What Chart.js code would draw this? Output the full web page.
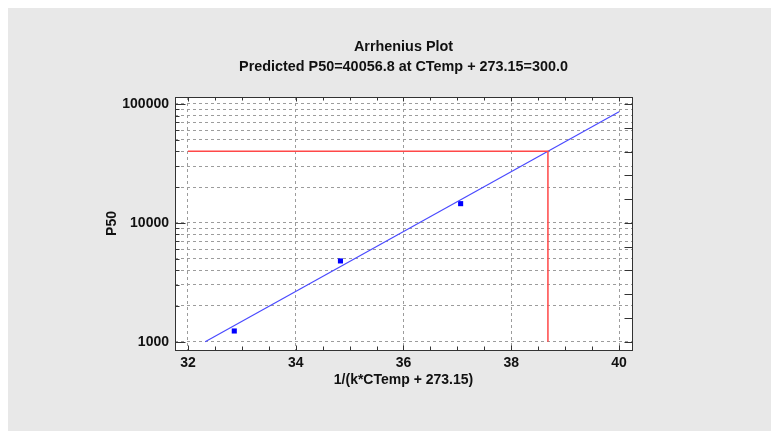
<!DOCTYPE html>
<html>
<head>
<meta charset="utf-8">
<title>Arrhenius Plot</title>
<script src="https://cdn.jsdelivr.net/npm/chart.js@4.4.1/dist/chart.umd.min.js"></script>
<style>
  html, body { margin: 0; padding: 0; background: #ffffff; }
  canvas { display: block; }
</style>
</head>
<body>
<canvas id="chart" width="771" height="431"></canvas>
<script>
// Observed samples: x = 1/(k*(CTemp + 273.15)), y = P50
const invTemp = [32.86, 34.83, 37.06];
const p50 = [1230, 4780, 14500];

// Fitted Arrhenius line, end points
const fitX = [32.32, 40.0];
const fitP50 = [1000, 86100];

// Prediction at CTemp + 273.15 = 300.0
const predTempK = 300.0;
const predX = 38.68;
const predP50 = 40056.8;

// Axis ticks
const xTicks = [32, 34, 36, 38, 40];
const xMinorTicks = [32.5, 33, 33.5, 34.5, 35, 35.5, 36.5, 37, 37.5, 38.5, 39, 39.5];
const yLabels = [1000, 10000, 100000];
const yGridValues = [1000, 2000, 3000, 4000, 5000, 6000, 7000, 8000, 9000,
                     10000, 20000, 30000, 40000, 50000, 60000, 70000, 80000, 90000, 100000];
const rightTickExps = [3, 3.2, 3.4, 3.6, 3.8, 4, 4.2, 4.4, 4.6, 4.8, 5];

const FONT = 'Liberation Sans, Arial, sans-serif';
const TEXT = '#111111';
const GRID = '#9c9c9c';
const FRAME = '#333333';

const framePlugin = {
  id: 'framePlugin',
  beforeDraw(chart) {
    const { ctx, width, height, chartArea: a } = chart;
    ctx.save();
    ctx.fillStyle = '#ffffff';
    ctx.fillRect(0, 0, width, height);
    ctx.fillStyle = '#e8e8e8';
    ctx.fillRect(8, 8, width - 8, height - 8);
    ctx.fillStyle = '#ffffff';
    ctx.fillRect(a.left, a.top, a.right - a.left, a.bottom - a.top);
    ctx.restore();
  },
  afterDraw(chart) {
    const { ctx, chartArea: a, scales } = chart;
    const xs = scales.x, ys = scales.y;
    const L = Math.round(a.left) + 0.5, R = Math.round(a.right) + 0.5;
    const T = Math.round(a.top) + 0.5, B = Math.round(a.bottom) + 0.5;
    ctx.save();
    ctx.strokeStyle = FRAME;
    ctx.lineWidth = 1;
    ctx.beginPath();
    const vt = (v, len, y0, dir) => {
      const px = Math.round(xs.getPixelForValue(v)) + 0.5;
      ctx.moveTo(px, y0); ctx.lineTo(px, y0 + dir * len);
    };
    const ht = (v, len, x0, dir) => {
      const py = Math.round(ys.getPixelForValue(v)) + 0.5;
      ctx.moveTo(x0, py); ctx.lineTo(x0 + dir * len, py);
    };
    // bottom and top ticks, pointing inward
    xTicks.forEach(v => { vt(v, 5, B, -1); vt(v, 4, T, 1); });
    xMinorTicks.forEach(v => { vt(v, 4, B, -1); vt(v, 3, T, 1); });
    // left ticks: decades long, intermediate values short
    yGridValues.forEach(v => ht(v, yLabels.includes(v) ? 10 : 4, L, 1));
    // right ticks at even log steps
    rightTickExps.forEach(e => ht(Math.pow(10, e), 8, R, -1));
    ctx.stroke();
    ctx.strokeRect(L, T, R - L, B - T);
    ctx.restore();
  }
};

new Chart(document.getElementById('chart'), {
  type: 'scatter',
  data: {
    datasets: [
      {
        label: 'Prediction',
        data: [{ x: xTicks[0], y: predP50 }, { x: predX, y: predP50 }, { x: predX, y: yLabels[0] }],
        showLine: true,
        borderColor: '#ff4848',
        borderWidth: 1.5,
        pointRadius: 0,
        fill: false
      },
      {
        label: 'Fit',
        data: fitX.map((x, i) => ({ x, y: fitP50[i] })),
        showLine: true,
        borderColor: '#4a4aff',
        borderWidth: 1.2,
        pointRadius: 0,
        fill: false
      },
      {
        label: 'P50',
        data: invTemp.map((x, i) => ({ x, y: p50[i] })),
        showLine: false,
        pointStyle: 'rect',
        pointRadius: 3.6,
        borderWidth: 0,
        backgroundColor: '#0000ff',
        borderColor: '#0000ff'
      }
    ]
  },
  options: {
    responsive: false,
    animation: false,
    events: [],
    layout: { padding: { left: 90, top: 20, right: 139, bottom: 31 } },
    plugins: {
      legend: { display: false },
      tooltip: { enabled: false },
      title: {
        display: true,
        text: 'Arrhenius Plot',
        fullSize: false,
        color: TEXT,
        font: { family: FONT, size: 14.4, weight: 'bold', lineHeight: 1.2 },
        padding: { top: 18.36, bottom: 0 }
      },
      subtitle: {
        display: true,
        text: 'Predicted P50=' + predP50.toFixed(1) + ' at CTemp + 273.15=' + predTempK.toFixed(1),
        fullSize: false,
        color: TEXT,
        font: { family: FONT, size: 14.4, weight: 'bold', lineHeight: 1.2 },
        padding: { top: 2.72, bottom: 21.36 }
      }
    },
    scales: {
      x: {
        type: 'linear',
        position: 'bottom',
        min: 31.76,
        max: 40.24,
        afterBuildTicks: s => { s.ticks = xTicks.map(v => ({ value: v })); },
        afterFit: s => { s.height = 50; },
        ticks: {
          autoSkip: false,
          maxRotation: 0,
          padding: 5,
          color: TEXT,
          font: { family: FONT, size: 14, weight: 'bold' },
          callback: v => String(v)
        },
        grid: { color: GRID, lineWidth: 1, drawTicks: false },
        border: { display: false, dash: [3, 3] },
        title: {
          display: true,
          text: '1/(k*CTemp + 273.15)',
          color: TEXT,
          font: { family: FONT, size: 14, weight: 'bold', lineHeight: 1.2 },
          padding: { top: 0, bottom: 11.1 }
        }
      },
      y: {
        type: 'logarithmic',
        position: 'left',
        min: 851,
        max: 114500,
        afterBuildTicks: s => { s.ticks = yGridValues.map(v => ({ value: v })); },
        afterFit: s => { s.width = 85; },
        ticks: {
          autoSkip: false,
          padding: 6,
          color: TEXT,
          font: { family: FONT, size: 14, weight: 'bold' },
          callback: v => (yLabels.includes(v) ? String(v) : '')
        },
        grid: { color: GRID, lineWidth: 1, drawTicks: false },
        border: { display: false, dash: [3, 3] },
        title: {
          display: true,
          text: 'P50',
          color: TEXT,
          font: { family: FONT, size: 14, weight: 'bold', lineHeight: 1.2 },
          padding: { top: 13.6, bottom: 0 }
        }
      }
    }
  },
  plugins: [framePlugin]
});
</script>
</body>
</html>
